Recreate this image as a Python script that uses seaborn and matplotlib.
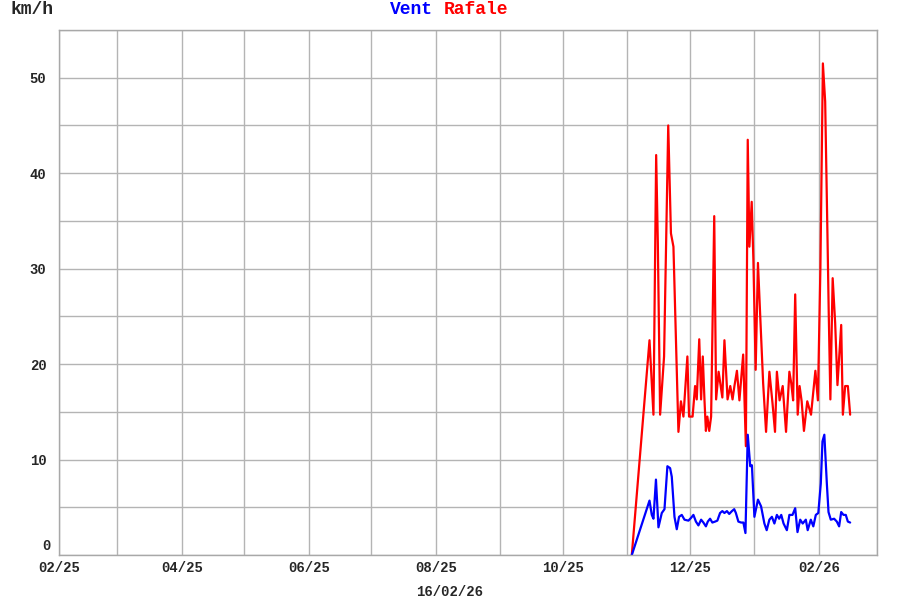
import matplotlib
matplotlib.use("Agg")
import matplotlib.pyplot as plt
import matplotlib.dates as mdates
from matplotlib.ticker import MultipleLocator, FuncFormatter
import seaborn as sns
import pandas as pd

# jours depuis le 01/11/2025
rafale_day = [2.2, 10.7, 12.6, 13.9, 14.7, 15.8, 17.7, 19.7, 21.0, 22.2,
              24.6, 25.8, 27.0, 28.9, 29.7, 31.4, 32.6, 33.4, 34.6, 35.5,
              36.3, 37.1, 37.8, 38.5, 39.4, 40.3, 41.8, 42.7, 43.9, 45.7,
              46.7, 48.2, 49.5, 50.6, 51.5, 52.7, 53.9, 55.7, 57.0, 57.9,
              58.7, 59.8, 60.6, 61.7, 62.8, 64.0, 65.3, 66.7, 68.3, 69.8,
              71.0, 71.9, 73.2, 74.7, 76.3, 77.9, 78.8, 79.7, 80.7, 81.9,
              82.8, 83.8, 84.9, 86.5, 88.3, 90.4, 91.6, 92.8, 94.0, 95.1,
              96.2, 96.8, 97.6, 98.7, 99.9, 101.0, 102.8, 103.6, 104.7, 106.0,
              107.1]
rafale_kmh = [0.0, 22.5, 14.7, 41.9, 32.7, 14.7, 20.8, 45.0, 33.7, 32.3,
              12.9, 16.1, 14.5, 20.8, 14.5, 14.5, 17.7, 16.3, 22.6, 16.3,
              20.8, 16.3, 13.0, 14.5, 13.0, 14.5, 35.5, 16.3, 19.2, 16.5,
              22.5, 16.3, 17.7, 16.3, 17.7, 19.3, 16.2, 21.0, 11.4, 43.5,
              32.3, 37.0, 31.0, 19.4, 30.6, 24.5, 18.0, 12.9, 19.2, 15.9,
              12.9, 19.2, 16.2, 17.7, 12.9, 19.2, 18.0, 16.2, 27.3, 14.7,
              17.7, 16.1, 13.0, 16.1, 14.7, 19.3, 16.2, 30.0, 51.5, 47.5,
              33.5, 25.5, 16.3, 29.0, 24.3, 17.8, 24.1, 14.7, 17.7, 17.7,
              14.7]

vent_day = [2.2, 10.7, 11.8, 12.6, 13.8, 15.0, 16.6, 17.9, 19.3, 20.6,
            21.4, 22.7, 23.8, 24.9, 26.2, 27.5, 29.4, 30.7, 31.8, 33.0,
            34.2, 35.5, 36.6, 37.8, 38.7, 39.8, 40.9, 42.2, 43.3, 44.6,
            45.7, 46.7, 47.9, 49.0, 50.3, 51.4, 52.2, 53.4, 54.7, 55.8,
            56.8, 57.9, 59.1, 59.9, 61.1, 62.8, 64.3, 65.9, 67.0, 68.3,
            69.5, 70.7, 71.9, 73.0, 74.0, 75.1, 76.7, 77.9, 79.4, 80.7,
            81.8, 83.1, 84.3, 85.8, 86.7, 88.2, 89.4, 90.6, 91.8, 93.0,
            93.8, 94.7, 95.9, 96.7, 97.8, 99.4, 100.7, 101.8, 102.8, 103.9,
            105.0, 106.0, 107.1]
vent_kmh = [0.0, 5.7, 4.2, 3.8, 7.9, 2.9, 4.4, 4.8, 9.3, 9.1,
            8.2, 4.0, 2.7, 4.0, 4.2, 3.7, 3.6, 3.9, 4.2, 3.5,
            3.1, 3.7, 3.4, 3.0, 3.5, 3.8, 3.4, 3.5, 3.6, 4.4,
            4.6, 4.4, 4.6, 4.3, 4.6, 4.8, 4.4, 3.5, 3.4, 3.4,
            2.3, 12.6, 9.3, 9.4, 4.0, 5.8, 5.1, 3.3, 2.6, 3.7,
            4.0, 3.3, 4.2, 3.8, 4.2, 3.3, 2.6, 4.2, 4.2, 4.9,
            2.4, 3.7, 3.3, 3.7, 2.6, 3.7, 3.0, 4.2, 4.4, 7.5,
            11.9, 12.6, 7.5, 4.5, 3.7, 3.8, 3.5, 3.0, 4.5, 4.2,
            4.2, 3.5, 3.4]

x_debut = "2025-02-01"
x_fin = "2026-03-01"
y_max = 55
date_maj = "16/02/26"

origine = pd.Timestamp("2025-11-01")
rafale = pd.DataFrame({"date": origine + pd.to_timedelta(rafale_day, unit="D"), "kmh": rafale_kmh})
vent = pd.DataFrame({"date": origine + pd.to_timedelta(vent_day, unit="D"), "kmh": vent_kmh})

sns.set_style("white")
plt.rcParams["font.family"] = ["Liberation Mono", "DejaVu Sans Mono"]
plt.rcParams["font.weight"] = "bold"

fig = plt.figure(figsize=(9, 6), dpi=100)
ax = fig.add_axes([59/900, 45/600, 818/900, 525/600])

sns.lineplot(data=rafale, x="date", y="kmh", color="#ff0000", linewidth=1.6, ax=ax)
sns.lineplot(data=vent, x="date", y="kmh", color="#0000ff", linewidth=1.6, ax=ax)

ax.set_xlim(pd.Timestamp(x_debut), pd.Timestamp(x_fin))
ax.set_ylim(0, y_max)
ax.set_xlabel("")
ax.set_ylabel("")

# grille mensuelle, étiquette tous les 2 mois
ax.xaxis.set_major_locator(mdates.MonthLocator())
ax.xaxis.set_major_formatter(FuncFormatter(
    lambda v, p: mdates.num2date(v).strftime("%m/%y") if mdates.num2date(v).month % 2 == 0 else ""))
ax.yaxis.set_major_locator(MultipleLocator(5))
ax.yaxis.set_major_formatter(FuncFormatter(lambda v, p: f"{int(v)}" if v % 10 == 0 and 0 < v < y_max else ""))

ax.tick_params(axis="x", length=0, pad=4, labelsize=10)
ax.tick_params(axis="y", length=0, pad=9, labelsize=10)
ax.grid(True, color="#b4b4b4", linewidth=1)
ax.set_axisbelow(True)
for s in ax.spines.values():
    s.set_color("#a8a8a8")
    s.set_linewidth(1)

# le zéro est décalé vers le haut pour ne pas toucher 02/25
ax.annotate("0", xy=(0, 0), xycoords="axes fraction", xytext=(-6, 1.5),
            textcoords="offset points", ha="right", va="bottom", fontsize=10)

fig.text(10/900, 1 - 10/600, "km/h", fontsize=13, ha="left", va="center")
fig.text(390/900, 1 - 10/600, "Vent", color="#0000ff", fontsize=13, ha="left", va="center")
fig.text(444/900, 1 - 10/600, "Rafale", color="#ff0000", fontsize=13, ha="left", va="center")
fig.text(0.5, 1 - 592/600, date_maj, fontsize=10, ha="center", va="center")

fig.savefig("out.png", dpi=100)
